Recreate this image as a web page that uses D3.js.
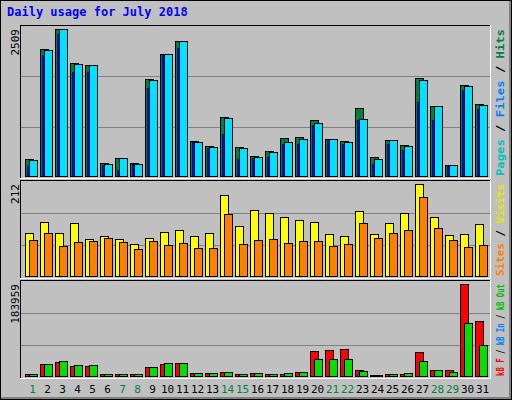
<!DOCTYPE html><html><head><script src="https://cdn.jsdelivr.net/npm/d3@7"></script>
<style>body{margin:0;background:#fff}</style></head><body><svg id="c" width="512" height="400"></svg><script>
const days=d3.range(1,32);
const weekend=[1,7,8,14,15,21,22,28,29];
const hits=[295,2168,2509,1930,1896,227,312,227,1657,2089,2305,602,517,1010,488,335,420,641,658,948,624,602,1169,318,607,522,1680,1203,193,1561,1237];
const files=[278,2151,2509,1913,1896,210,312,210,1640,2089,2305,585,500,993,471,318,403,585,624,908,624,585,965,284,607,505,1646,1203,193,1544,1220];
const pages=[165,2072,2429,1782,1782,182,96,199,1510,2072,2185,585,482,709,284,312,318,539,539,863,613,539,948,199,539,437,1271,948,182,1476,1152];
const visits=[99,124,99,122,85,92,85,74,88,101,106,92,99,187,115,152,145,136,129,124,97,92,150,97,122,145,212,136,94,97,120];
const sites=[83,99,69,78,81,88,78,62,81,71,76,65,65,143,74,83,85,76,81,81,69,74,122,88,99,106,182,111,83,67,71];
const kbF=[4043,24258,28301,20215,20215,4043,4043,4043,18194,24258,26280,6065,6065,8086,4043,6065,4043,4043,8086,50538,52560,54581,12129,2022,4043,4043,48517,12129,12129,183959,109162];
const kbOut=[4043,24258,30323,22237,22237,4043,4043,4043,18194,26280,26280,6065,6065,8086,4043,6065,4043,6065,8086,34366,34366,34366,10108,2022,4043,6065,30323,12129,8086,105119,62666];
const kbIn=[500,500,500,500,500,500,500,500,500,500,500,500,500,500,500,500,500,500,500,500,500,500,3000,500,500,500,500,500,500,500,500];
const svg=d3.select("#c");
const F="DejaVu Sans Mono, monospace";
svg.append("rect").attr("width",512).attr("height",400).attr("fill","#808080");
svg.append("rect").attr("x",1).attr("y",1).attr("width",508).attr("height",396).attr("fill","#c0c0c0");
svg.append("rect").attr("x",0.5).attr("y",0.5).attr("width",511).attr("height",399).attr("fill","none").attr("stroke","#000");
svg.append("text").attr("x",7).attr("y",16).attr("font-family",F).attr("font-weight","bold").attr("font-size",12).attr("fill","#0000ff").text("Daily usage for July 2018");
const x=d3.scaleBand().domain(days).range([21,486]).paddingInner(0);
function panel(top,bot,max,label,series,legend){
  svg.append("line").attr("x1",20.5).attr("x2",490.5).attr("y1",top+0.5).attr("y2",top+0.5).attr("stroke","#000");
  svg.append("line").attr("x1",20.5).attr("x2",20.5).attr("y1",top).attr("y2",bot).attr("stroke","#000");
  svg.append("line").attr("x1",20).attr("x2",491).attr("y1",bot+0.5).attr("y2",bot+0.5).attr("stroke","#fff");
  svg.append("line").attr("x1",490.5).attr("x2",490.5).attr("y1",top).attr("y2",bot+1).attr("stroke","#fff");
  const h=bot-top;
  [1,2].forEach(i=>svg.append("line").attr("x1",21).attr("x2",490).attr("y1",top+Math.round(h*i/3)+0.5).attr("y2",top+Math.round(h*i/3)+0.5).attr("stroke","#808080"));
  const y=d3.scaleLinear().domain([0,max]).range([bot-2,top+4]);
  series.forEach(s=>{
    svg.append("g").selectAll("rect").data(s.data).join("rect")
      .attr("x",(d,i)=>x(days[i])+4+s.dx+0.5).attr("width",s.w)
      .attr("y",d=>Math.round(y(d))+0.5).attr("height",d=>Math.max(0,bot-2-Math.round(y(d))))
      .attr("fill",s.c).attr("stroke","#000").attr("stroke-width",s.sw==null?1:s.sw);
  });
  svg.append("text").attr("transform",`translate(19,${top+4}) rotate(-90)`).attr("text-anchor","end")
    .attr("font-family",F).attr("font-size",11).attr("fill","#000").text(label);
  const t=svg.append("text").attr("transform",`translate(504,${bot-2}) rotate(-90)`)
    .attr("font-family",F).attr("font-size",10).attr("font-weight","bold")
    .attr("textLength",h-6).attr("lengthAdjust","spacingAndGlyphs");
  legend.forEach(l=>t.append("tspan").attr("fill",l[1]).text(l[0]));
}
panel(25,178,2509,"2509",[{data:hits,c:"#008040",dx:0,w:8},{data:files,c:"#00e0ff",dx:4,w:8},{data:pages,c:"#0000ff",dx:2,w:2,sw:0.5}],
 [["Pages","#00c0c0"],[" / ","#000"],["Files","#0080ff"],[" / ","#000"],["Hits","#008040"]]);
panel(180,278,212,"212",[{data:visits,c:"#ffff00",dx:0,w:8},{data:sites,c:"#ff8000",dx:4,w:8}],
 [["Sites","#ff8000"],[" / ","#000"],["Visits","#e8e800"]]);
panel(280,378,183959,"183959",[{data:kbF,c:"#ff0000",dx:0,w:8},{data:kbIn,c:"#0080ff",dx:2,w:2,sw:0.5},{data:kbOut,c:"#00e000",dx:4,w:8}],
 [["kB F","#ff0000"],[" / ","#000"],["kB In","#0080ff"],[" / ","#000"],["kB Out","#00c000"]]);
svg.append("g").selectAll("text").data(days).join("text").attr("x",d=>x(d)+x.bandwidth()/2+4).attr("y",393)
  .attr("text-anchor","middle").attr("font-family",F).attr("font-size",11)
  .attr("fill",d=>weekend.includes(d)?"#008040":"#000").text(d=>d);
</script></body></html>
